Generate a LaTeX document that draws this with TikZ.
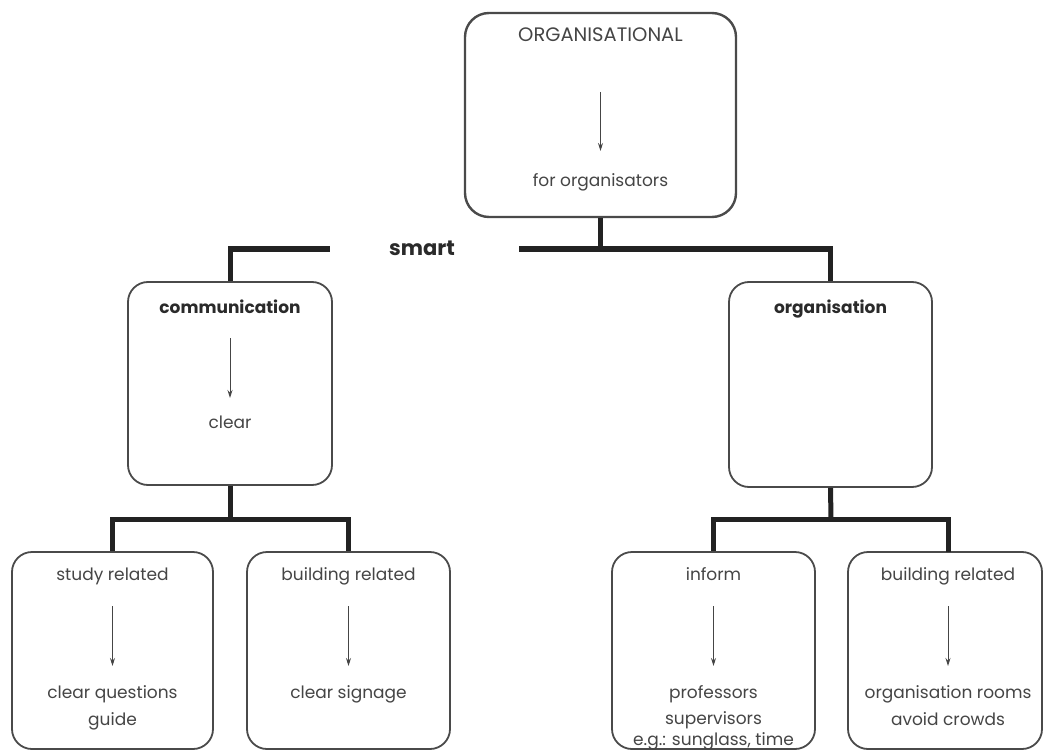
\documentclass[tikz,border=0pt]{standalone}
\usepackage{fontspec}
\setmainfont{Poppins}
\usetikzlibrary{arrows.meta}
\definecolor{ink}{HTML}{222222}
\definecolor{frame}{HTML}{4A4A4A}
\definecolor{txt}{HTML}{454545}
\definecolor{head}{HTML}{2A2A2A}
\begin{document}
\begin{tikzpicture}[x=1pt,y=-1pt,
  box/.style={draw=frame, line width=1.8pt, rounded corners=20pt, inner sep=0pt},
  bus/.style={draw=ink, line width=5pt},
  flow/.style={draw=txt, line width=0.9pt, -{Stealth[length=8pt,width=5pt]}},
  lbl/.style={anchor=base, inner sep=0pt, text=txt, font=\fontsize{17}{19}\selectfont},
  ttl/.style={lbl, text=head, font=\fontsize{17}{19}\selectfont\bfseries},
]
\useasboundingbox (0,0) rectangle (1043,751);
\fill[white] (0,0) rectangle (1043,751);

% boxes
\node[box, line width=2.4pt, rounded corners=24pt, minimum width=271pt, minimum height=204pt] (top) at (600.5,115) {};
\node[box, minimum width=204pt, minimum height=203pt] (comm) at (230,383.5) {};
\node[box, minimum width=203pt, minimum height=205pt] (org) at (830.5,384.5) {};
\node[box, minimum width=201pt, minimum height=197pt] (study) at (112.5,650.5) {};
\node[box, minimum width=203pt, minimum height=197pt] (build) at (348.5,650.5) {};
\node[box, minimum width=203pt, minimum height=197pt] (inform) at (713.5,650.5) {};
\node[box, minimum width=194pt, minimum height=197pt] (build2) at (945,650.5) {};

% top box
\node[lbl, font=\fontsize{19.5}{21}\selectfont] (orgtitle) at (600.5,42) {ORGANISATIONAL};
\node[lbl] (fororg) at (600.5,187) {for organisators};
\coordinate (a0s) at (600.5,92);
\coordinate (a0e) at (600.5,151);
\draw[flow] (a0s) -- (a0e);

% smart bar
\node[anchor=base, inner sep=0pt, text=head, font=\fontsize{21}{23}\selectfont\bfseries] (smart) at (422,255) {smart};
\coordinate (barL) at (330,249);
\coordinate (barR) at (519,249);
\coordinate (barM) at (600.5,249);
\draw[bus] (top.south) -- (barM);
\draw[bus] (comm.north) |- (barL);
\draw[bus] (barR) -| (org.north);

% communication
\node[ttl] (commt) at (230,313) {communication};
\coordinate (a1s) at (230,338);
\coordinate (a1e) at (230,398);
\draw[flow] (a1s) -- (a1e);
\node[lbl] (clear) at (230,428) {clear};

% organisation
\node[ttl] (orgt) at (830.5,313) {organisation};

% lower left bus
\coordinate (cbus) at (230,519);
\draw[bus] (comm.south) -- (cbus);
\draw[bus] (study.north) |- (cbus) -| (build.north);

% lower right bus
\coordinate (obus) at (831,519);
\coordinate (b4top) at (948,552);
\draw[bus] (org.south) -- (obus);
\draw[bus] (inform.north) |- (obus) -| (b4top);

% study related
\node[lbl] (st) at (112.5,580) {study related};
\coordinate (a2s) at (112.5,606);
\coordinate (a2e) at (112.5,666);
\draw[flow] (a2s) -- (a2e);
\node[lbl] (st1) at (112.5,698) {clear questions};
\node[lbl] (st2) at (112.5,725) {guide};

% building related
\node[lbl] (bt) at (348.5,580) {building related};
\coordinate (a3s) at (348.5,606);
\coordinate (a3e) at (348.5,666);
\draw[flow] (a3s) -- (a3e);
\node[lbl] (bt1) at (348.5,698) {clear signage};

% inform
\node[lbl] (it) at (713.5,580) {inform};
\coordinate (a4s) at (713.5,606);
\coordinate (a4e) at (713.5,666);
\draw[flow] (a4s) -- (a4e);
\node[lbl] (it1) at (713.5,698) {professors};
\node[lbl] (it2) at (713.5,724) {supervisors};
\node[lbl] (it3) at (713.5,745) {e.g.: sunglass, time};

% building related (right)
\node[lbl] (b2t) at (948,580) {building related};
\coordinate (a5s) at (948,606);
\coordinate (a5e) at (948,666);
\draw[flow] (a5s) -- (a5e);
\node[lbl] (b2t1) at (948,698) {organisation rooms};
\node[lbl] (b2t2) at (948,725) {avoid crowds};
\end{tikzpicture}
\end{document}
